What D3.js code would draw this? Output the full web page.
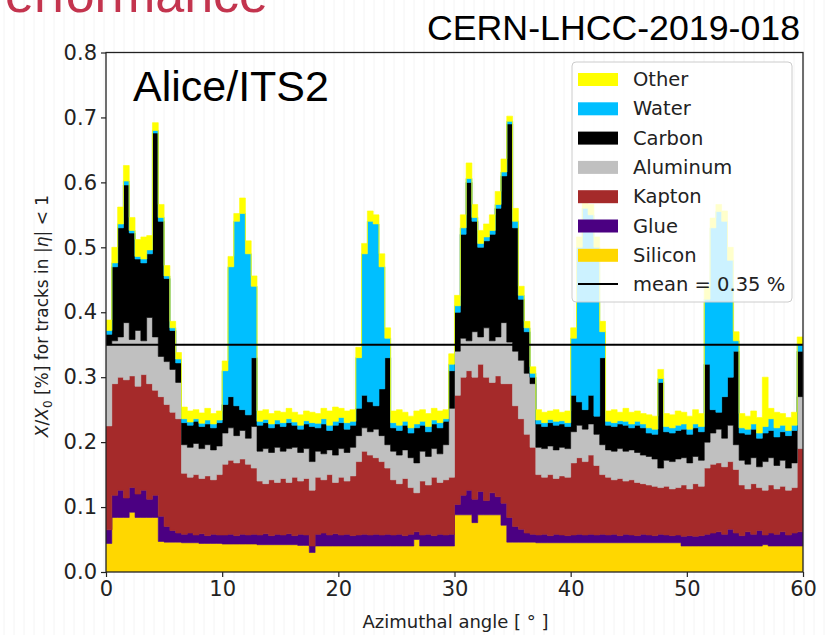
<!DOCTYPE html>
<html>
<head>
<meta charset="utf-8">
<script src="https://cdn.jsdelivr.net/npm/d3@7"></script>
<style>
  body { margin: 0; background: #fff; }
  svg { display: block; }
</style>
</head>
<body>
<svg id="chart" width="834" height="635"></svg>
<script>
// 0.5 degree bins from 0 to 60, X/X0 contribution [%] per material
const binWidth = 0.5;
const silicon = [
  .044,.084,.084,.084,.092,.084,.084,.084,.084,.047,.046,.046,.046,.045,.045,.045,.044,.044,.044,.044,
  .043,.043,.043,.043,.043,.043,.042,.042,.042,.042,.042,.042,.042,.041,.041,.030,.040,.040,.040,.040,
  .040,.040,.040,.040,.040,.040,.040,.040,.040,.040,.040,.040,.040,.050,.040,.040,.040,.040,.040,.040,
  .088,.088,.088,.076,.088,.088,.088,.088,.072,.046,.046,.046,.046,.046,.045,.045,.045,.045,.045,.045,
  .045,.045,.045,.045,.045,.045,.045,.045,.045,.045,.045,.045,.045,.045,.045,.045,.045,.045,.045,.040,
  .040,.040,.040,.040,.040,.040,.040,.040,.040,.040,.040,.040,.040,.042,.040,.040,.040,.040,.040,.040];
const glue = [
  .021,.034,.042,.030,.038,.036,.042,.028,.034,.039,.024,.018,.014,.013,.015,.012,.015,.012,.014,.013,
  .014,.015,.013,.015,.014,.015,.015,.017,.014,.016,.015,.017,.014,.017,.016,.010,.018,.020,.017,.019,
  .017,.018,.016,.017,.018,.017,.018,.017,.018,.017,.018,.016,.018,.012,.017,.018,.016,.018,.017,.018,
  .016,.030,.038,.036,.036,.022,.034,.028,.034,.038,.024,.020,.014,.012,.012,.013,.011,.013,.012,.011,
  .012,.013,.012,.013,.012,.013,.012,.013,.011,.013,.012,.011,.013,.012,.011,.013,.012,.011,.012,.015,
  .016,.015,.016,.018,.020,.022,.018,.026,.020,.016,.022,.018,.024,.015,.020,.018,.022,.017,.020,.022];
const kapton = [
  .160,.172,.174,.182,.172,.166,.178,.178,.162,.184,.188,.182,.176,.094,.086,.093,.085,.092,.084,.093,
  .109,.114,.112,.116,.109,.102,.083,.077,.086,.080,.087,.079,.090,.082,.087,.086,.088,.082,.093,.079,
  .089,.082,.092,.113,.128,.123,.118,.113,.102,.085,.078,.088,.072,.060,.083,.076,.090,.080,.085,.088,
  .168,.182,.184,.188,.196,.190,.170,.186,.184,.206,.186,.170,.152,.134,.093,.088,.094,.086,.091,.090,
  .111,.118,.113,.122,.107,.092,.089,.084,.088,.082,.085,.082,.078,.077,.076,.072,.075,.072,.073,.079,
  .072,.081,.076,.102,.106,.106,.104,.104,.098,.078,.066,.078,.066,.069,.074,.070,.070,.069,.070,.128];
const aluminum = [
  .125,.066,.062,.088,.056,.086,.052,.102,.082,.062,.066,.066,.056,.044,.046,.048,.046,.048,.046,.044,
  .048,.050,.042,.044,.040,.064,.046,.054,.042,.054,.042,.052,.046,.044,.046,.044,.040,.040,.038,.042,
  .044,.044,.044,.040,.036,.036,.044,.040,.036,.044,.044,.044,.046,.046,.046,.044,.044,.044,.054,.106,
  .068,.060,.046,.070,.042,.076,.064,.060,.094,.064,.084,.090,.094,.098,.042,.044,.044,.044,.044,.044,
  .048,.050,.050,.048,.048,.046,.042,.044,.046,.046,.046,.046,.044,.044,.042,.030,.040,.042,.044,.042,
  .040,.042,.040,.040,.048,.052,.044,.056,.038,.038,.038,.040,.032,.044,.042,.036,.040,.034,.038,.080];
const carbon = [
  .016,.114,.168,.212,.164,.110,.120,.098,.314,.208,.128,.060,.030,.034,.034,.034,.034,.032,.034,.036,
  .044,.048,.046,.032,.036,.106,.040,.040,.038,.036,.038,.040,.034,.036,.038,.054,.036,.046,.030,.046,
  .040,.036,.034,.042,.050,.046,.036,.072,.134,.036,.038,.038,.038,.054,.040,.038,.038,.040,.036,.058,
  .060,.160,.244,.170,.138,.134,.164,.198,.226,.336,.190,.094,.064,.010,.036,.034,.036,.038,.036,.034,
  .056,.036,.030,.044,.028,.134,.038,.038,.038,.040,.034,.042,.042,.036,.038,.132,.044,.044,.044,.044,
  .044,.044,.044,.120,.036,.026,.064,.074,.144,.042,.046,.044,.044,.044,.042,.044,.044,.050,.050,.070];
const water = [
  .006,.006,.006,.006,.004,.004,.006,.006,.004,.006,.004,.004,.006,.006,.005,.004,.005,.006,.006,.004,
  .052,.200,.284,.302,.248,.110,.006,.005,.006,.006,.006,.006,.005,.006,.005,.006,.007,.008,.008,.006,
  .008,.010,.006,.078,.218,.278,.280,.188,.030,.008,.008,.006,.008,.006,.006,.008,.006,.008,.004,.010,
  .010,.010,.006,.006,.006,.006,.006,.006,.006,.004,.010,.006,.006,.006,.006,.006,.005,.006,.005,.006,
  .088,.238,.310,.278,.260,.040,.006,.006,.005,.006,.006,.006,.006,.008,.008,.006,.008,.008,.008,.008,
  .008,.006,.008,.100,.280,.309,.270,.180,.016,.008,.008,.008,.008,.010,.018,.014,.010,.008,.008,.010];
const other = [
  .016,.024,.026,.024,.020,.026,.034,.022,.012,.020,.016,.010,.010,.018,.017,.014,.016,.018,.016,.014,
  .015,.016,.012,.024,.020,.016,.016,.015,.016,.014,.016,.016,.015,.016,.015,.016,.015,.016,.022,.022,
  .014,.018,.018,.016,.016,.016,.014,.020,.016,.018,.024,.014,.018,.020,.018,.020,.018,.018,.014,.016,
  .016,.020,.024,.020,.020,.020,.024,.020,.020,.008,.020,.014,.010,.010,.016,.016,.013,.018,.013,.018,
  .016,.016,.012,.016,.016,.016,.016,.020,.013,.020,.018,.016,.016,.020,.020,.014,.020,.020,.022,.018,
  .020,.022,.020,.020,.015,.011,.016,.020,.014,.022,.020,.020,.024,.076,.016,.024,.018,.020,.020,.012];

const materials = ["Silicon", "Glue", "Kapton", "Aluminum", "Carbon", "Water", "Other"];
const seriesValues = [silicon, glue, kapton, aluminum, carbon, water, other];
const colors = ["#ffd700", "#4b0082", "#a52a2a", "#c0c0c0", "#000000", "#00bfff", "#ffff00"];
const meanValue = 0.35;
const xTicks = [0, 10, 20, 30, 40, 50, 60];
const yTicks = [0, 0.1, 0.2, 0.3, 0.4, 0.5, 0.6, 0.7, 0.8];

const svg = d3.select("#chart");
const W = 834, H = 635;
const margin = {left: 106, right: 31, top: 52.5, bottom: 63};
const pw = W - margin.left - margin.right;
const ph = H - margin.top - margin.bottom;

// faint scan stripes in the background
svg.append("g").selectAll("line")
  .data(d3.range(4, W, 10))
  .join("line")
  .attr("x1", d => d).attr("x2", d => d)
  .attr("y1", 0).attr("y2", H)
  .attr("stroke", "#f4f4f4").attr("stroke-width", 1);

// slide header texts (the title is cut by the top of the slide crop)
svg.append("text")
  .attr("x", 268).attr("y", 12)
  .attr("text-anchor", "end")
  .attr("font-family", "Liberation Sans, Arial, sans-serif")
  .attr("font-size", 52)
  .attr("fill", "#c3344e")
  .text("Performance");

svg.append("text")
  .attr("x", 427).attr("y", 40)
  .attr("textLength", 373).attr("lengthAdjust", "spacingAndGlyphs")
  .attr("font-family", "Liberation Sans, Arial, sans-serif")
  .attr("font-size", 35)
  .attr("fill", "#000")
  .text("CERN-LHCC-2019-018");

const g = svg.append("g").attr("transform", `translate(${margin.left},${margin.top})`);

const x = d3.scaleLinear().domain([0, 60]).range([0, pw]);
const y = d3.scaleLinear().domain([0, 0.8]).range([ph, 0]);

const rows = silicon.map((_, i) => {
  const r = {angle: i * binWidth};
  materials.forEach((m, k) => r[m] = seriesValues[k][i]);
  return r;
});
rows.push(Object.assign({}, rows[rows.length - 1], {angle: 60}));

const stacked = d3.stack().keys(materials)(rows);

const area = d3.area()
  .curve(d3.curveStepAfter)
  .x(d => x(d.data.angle))
  .y0(d => y(d[0]))
  .y1(d => y(d[1]));

g.append("clipPath").attr("id", "plotclip")
  .append("rect").attr("width", pw).attr("height", ph);

g.append("g").attr("clip-path", "url(#plotclip)")
  .selectAll("path")
  .data(stacked)
  .join("path")
  .attr("d", area)
  .attr("fill", (d, i) => colors[i])
  .attr("stroke", (d, i) => colors[i])
  .attr("stroke-width", 0.6);

// mean line
g.append("line")
  .attr("x1", 0).attr("x2", pw)
  .attr("y1", y(meanValue)).attr("y2", y(meanValue))
  .attr("stroke", "#000").attr("stroke-width", 2);

// axes
const fontAxis = "DejaVu Sans, sans-serif";
const xAxis = g.append("g").attr("transform", `translate(0,${ph})`)
  .call(d3.axisBottom(x).tickValues(xTicks).tickSize(5).tickSizeOuter(0).tickPadding(4));
const yAxis = g.append("g")
  .call(d3.axisLeft(y).tickValues(yTicks).tickFormat(d3.format(".1f")).tickSize(5).tickSizeOuter(0).tickPadding(4));
[xAxis, yAxis].forEach(a => {
  a.select(".domain").remove();
  a.selectAll("text").attr("font-family", fontAxis).attr("font-size", 21).attr("fill", "#222");
  a.selectAll("line").attr("stroke", "#222").attr("stroke-width", 1.2);
});

g.append("rect")
  .attr("width", pw).attr("height", ph)
  .attr("fill", "none").attr("stroke", "#222").attr("stroke-width", 1.3);

// axis labels
g.append("text")
  .attr("x", pw / 2 + 1).attr("y", ph + 56)
  .attr("text-anchor", "middle")
  .attr("font-family", fontAxis).attr("font-size", 18).attr("fill", "#222")
  .text("Azimuthal angle [ \u00b0 ]");

const yl = svg.append("text")
  .attr("transform", `translate(48,316) rotate(-90)`)
  .attr("text-anchor", "middle")
  .attr("font-family", fontAxis).attr("font-size", 17).attr("fill", "#222");
yl.append("tspan").attr("font-style", "italic").text("X");
yl.append("tspan").text("/");
yl.append("tspan").attr("font-style", "italic").text("X");
yl.append("tspan").attr("font-size", 12).attr("dy", 4).text("0");
yl.append("tspan").attr("dy", -4).text(" [%] for tracks in |");
yl.append("tspan").attr("font-style", "italic").text("\u03b7");
yl.append("tspan").text("| < 1");

// detector label
g.append("text")
  .attr("x", 27).attr("y", 48)
  .attr("font-family", "Liberation Sans, Arial, sans-serif")
  .attr("font-size", 43).attr("fill", "#000")
  .text("Alice/ITS2");

// legend
const legendItems = materials.map((m, i) => ({label: m, color: colors[i]})).reverse();
legendItems.push({label: "mean = 0.35 %", line: true});
const lg = svg.append("g").attr("transform", "translate(572,62)");
lg.append("rect")
  .attr("width", 220).attr("height", 240).attr("rx", 4)
  .attr("fill", "#fff").attr("fill-opacity", 0.8)
  .attr("stroke", "#ccc").attr("stroke-width", 1);
const rowsG = lg.selectAll("g.item").data(legendItems).join("g")
  .attr("class", "item")
  .attr("transform", (d, i) => `translate(0,${17 + i * 29.3})`);
rowsG.filter(d => !d.line).append("rect")
  .attr("x", 6).attr("y", -6).attr("width", 40).attr("height", 13)
  .attr("fill", d => d.color);
rowsG.filter(d => d.line).append("line")
  .attr("x1", 6).attr("x2", 46).attr("y1", 0).attr("y2", 0)
  .attr("stroke", "#000").attr("stroke-width", 2);
rowsG.append("text")
  .attr("x", 61).attr("y", 7)
  .attr("font-family", fontAxis).attr("font-size", 19.5).attr("fill", "#222")
  .text(d => d.label);
</script>
</body>
</html>
